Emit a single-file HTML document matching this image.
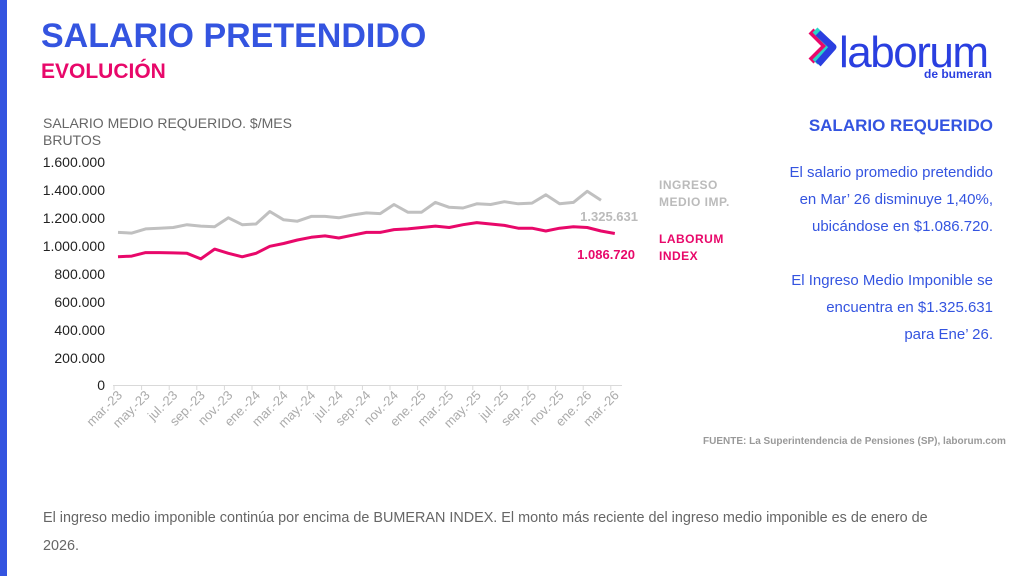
<!DOCTYPE html>
<html><head><meta charset="utf-8"><style>
body{margin:0;width:1024px;height:576px;background:#fff;position:relative;overflow:hidden;font-family:"Liberation Sans",Arial,sans-serif}
.a{position:absolute;white-space:nowrap}
</style></head><body>
<div class="a" style="left:0;top:0;width:7px;height:576px;background:#3454e0"></div>
<div class="a" style="left:41px;top:17px;font-size:34px;font-weight:bold;color:#3454e0">SALARIO PRETENDIDO</div>
<div class="a" style="left:41px;top:60px;font-size:21px;font-weight:bold;color:#e8086a">EVOLUCIÓN</div>
<div class="a" style="left:43px;top:115px;font-size:14px;color:#666;line-height:17px">SALARIO MEDIO REQUERIDO. $/MES<br>BRUTOS</div>
<svg class="a" style="left:806px;top:26px" width="200" height="56">
<path d="M5 5 L20 20 L5 35" fill="none" stroke="#e8086a" stroke-width="7" stroke-linejoin="round"/>
<path d="M9 4 L25 20 L9 36" fill="none" stroke="#2bd4c8" stroke-width="7" stroke-linejoin="round"/>
<path d="M12 7 L27 21 L12 38" fill="none" stroke="#2a3fe0" stroke-width="7" stroke-linejoin="round"/>
<text x="33" y="41" font-size="44" fill="#2a3fe0" font-family="Liberation Sans" textLength="150">laborum</text>
<text x="118" y="52" font-size="12" fill="#2a3fe0" font-family="Liberation Sans" font-weight="bold">de bumeran</text>
</svg>
<svg class="a" style="left:0;top:0" width="700" height="450" font-family="Liberation Sans">
<g font-size="14" fill="#222" text-anchor="end">
<text x="105" y="167">1.600.000</text><text x="105" y="195">1.400.000</text><text x="105" y="223">1.200.000</text><text x="105" y="251">1.000.000</text><text x="105" y="279">800.000</text><text x="105" y="307">600.000</text><text x="105" y="335">400.000</text><text x="105" y="363">200.000</text><text x="105" y="390">0</text>
</g>
<line x1="113" y1="385.5" x2="622" y2="385.5" stroke="#d9d9d9"/>
<g id="ticks" stroke="#d9d9d9"></g>
<g id="labs" font-size="13" fill="#aaa" text-anchor="end"></g>
<polyline id="g" fill="none" stroke="#c0c0c0" stroke-width="3" stroke-linejoin="round"/>
<polyline id="r" fill="none" stroke="#e8086a" stroke-width="3" stroke-linejoin="round"/>
<text x="638" y="221" font-size="13" font-weight="bold" fill="#bbb" text-anchor="end">1.325.631</text>
<text x="635" y="259" font-size="13" font-weight="bold" fill="#e8086a" text-anchor="end">1.086.720</text>
</svg>
<div class="a" style="left:659px;top:177px;font-size:12px;font-weight:bold;color:#bbb;line-height:17px;letter-spacing:0.5px">INGRESO<br>MEDIO IMP.</div>
<div class="a" style="left:659px;top:231px;font-size:12px;font-weight:bold;color:#e8086a;line-height:17px;letter-spacing:0.5px">LABORUM<br>INDEX</div>
<div class="a" style="right:31px;top:116px;font-size:17px;font-weight:bold;color:#3454e0">SALARIO REQUERIDO</div>
<div class="a" style="right:31px;top:159px;font-size:15px;color:#3454e0;line-height:27px;text-align:right">El salario promedio pretendido<br>en Mar’ 26 disminuye 1,40%,<br>ubicándose en $1.086.720.<br><br>El Ingreso Medio Imponible se<br>encuentra en $1.325.631<br>para Ene’ 26.</div>
<div class="a" style="left:703px;top:436px;font-size:10px;font-weight:bold;color:#999">FUENTE: La Superintendencia de Pensiones (SP), laborum.com</div>
<div class="a" style="left:43px;top:504px;font-size:14.4px;color:#666;line-height:28px">El ingreso medio imponible continúa por encima de BUMERAN INDEX. El monto más reciente del ingreso medio imponible es de enero de<br>2026.</div>
<script>
var red=[920,925,950,950,948,945,905,975,945,920,945,995,1015,1040,1060,1070,1055,1075,1095,1095,1115,1120,1130,1140,1130,1150,1165,1155,1145,1125,1125,1105,1125,1135,1130,1105,1087];
var gr=[1095,1090,1120,1125,1130,1150,1140,1135,1200,1150,1155,1245,1185,1175,1210,1210,1200,1220,1235,1230,1295,1240,1240,1310,1275,1270,1300,1295,1315,1300,1305,1365,1300,1310,1390,1326];
function X(i){return 118+i*13.8}function Y(v){return 385-v/1600*223}
function pts(a){return a.map(function(v,i){return X(i).toFixed(1)+","+Y(v).toFixed(1)}).join(" ")}
document.getElementById('r').setAttribute('points',pts(red));
document.getElementById('g').setAttribute('points',pts(gr));
var t='',l='',names=['ene.','feb.','mar.','abr.','may.','jun.','jul.','ago.','sep.','oct.','nov.','dic.'];
for(var k=0;k<19;k++){var x=X(k*2);var idx=k*2+2;var mo=idx%12,y2=23+Math.floor(idx/12);
t+='<line x1="'+(x-4)+'" y1="385" x2="'+(x-4)+'" y2="390"/>';
l+='<text transform="translate('+(x+5)+',396) rotate(-45)">'+names[mo]+'-'+y2+'</text>';}
document.getElementById('ticks').innerHTML=t;document.getElementById('labs').innerHTML=l;
</script>
</body></html>
